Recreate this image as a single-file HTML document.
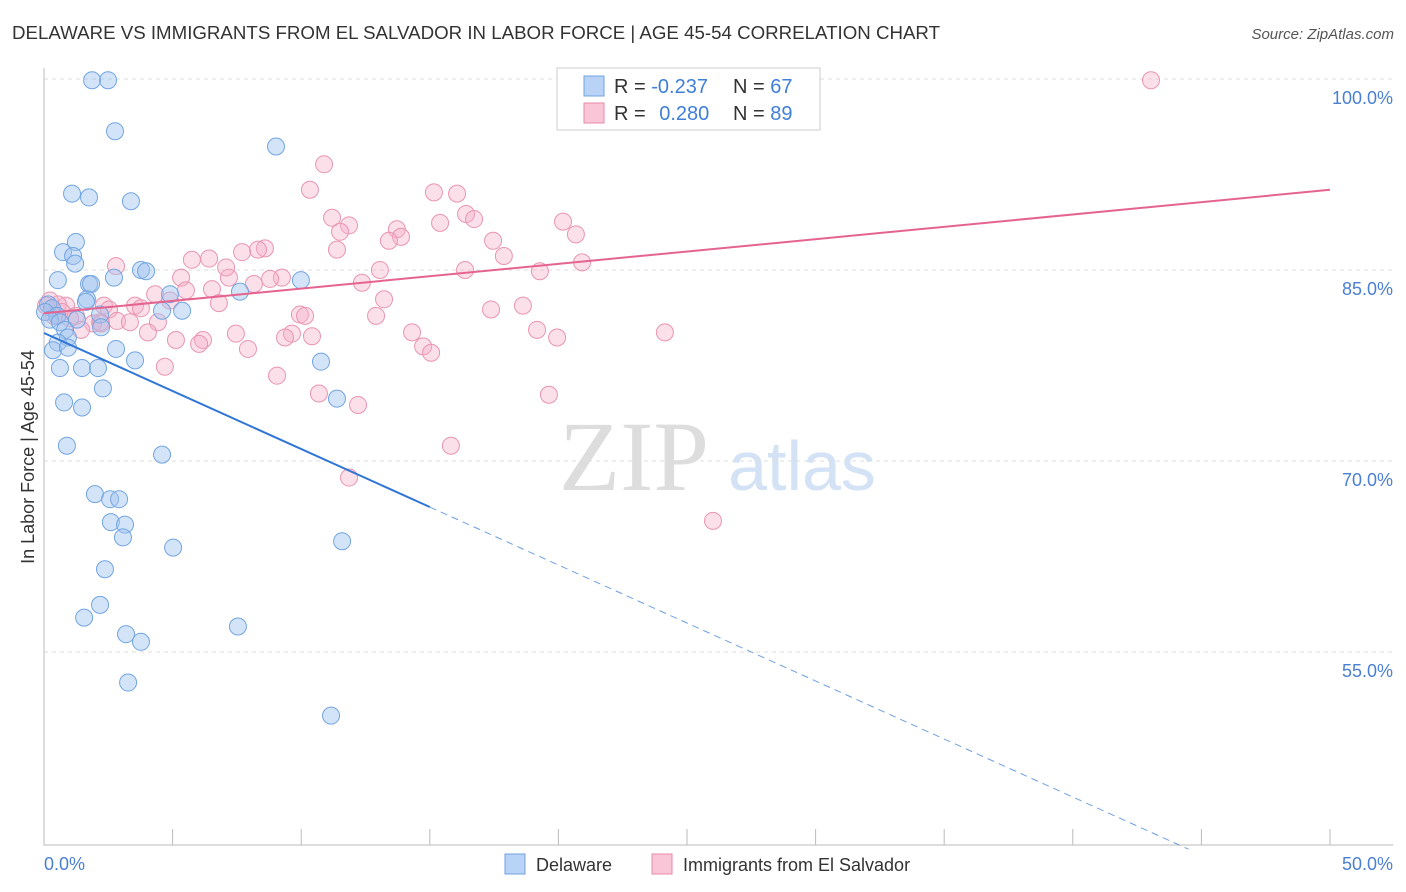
<!DOCTYPE html>
<html><head><meta charset="utf-8"><style>
body{margin:0;background:#fff;font-family:"Liberation Sans",sans-serif;}
#wrap{position:relative;width:1406px;height:892px;overflow:hidden;}
</style></head><body>
<div id="wrap">
<svg id="chart" width="1406" height="892">
<text x="12" y="39" font-size="18" fill="#333" textLength="928" lengthAdjust="spacingAndGlyphs">DELAWARE VS IMMIGRANTS FROM EL SALVADOR IN LABOR FORCE | AGE 45-54 CORRELATION CHART</text>
<text x="1394" y="39" font-size="15" fill="#555" font-style="italic" text-anchor="end">Source: ZipAtlas.com</text>
<text x="634" y="490" font-size="100" fill="#ddd" font-family="Liberation Serif,serif" text-anchor="middle">ZIP</text>
<text x="802" y="490" font-size="70" fill="#d3e2f5" text-anchor="middle">atlas</text>
<g id="grid"></g><g id="ticks"></g><g id="pts"></g><g id="trend"></g>
<text transform="translate(34,457) rotate(-90)" font-size="18" fill="#333" text-anchor="middle">In Labor Force | Age 45-54</text>
<text x="44" y="870" font-size="18" fill="#4a7fd4">0.0%</text>
<text x="1393" y="870" font-size="18" fill="#4a7fd4" text-anchor="end">50.0%</text>
<g>
<rect x="557" y="68" width="263" height="62" fill="#fff" stroke="#ccc"/>
<rect x="584" y="76" width="20" height="20" fill="#b8d3f5" stroke="#6fa3e0"/>
<rect x="584" y="103" width="20" height="20" fill="#f8c6d6" stroke="#e98aaa"/>
<text x="614" y="93" font-size="20" fill="#333">R = <tspan fill="#3f7fd9">-0.237</tspan></text>
<text x="733" y="93" font-size="20" fill="#333">N = <tspan fill="#3f7fd9">67</tspan></text>
<text x="614" y="120" font-size="20" fill="#333">R = <tspan fill="#3f7fd9" dx="8">0.280</tspan></text>
<text x="733" y="120" font-size="20" fill="#333">N = <tspan fill="#3f7fd9">89</tspan></text>
</g>
<g>
<rect x="505" y="854" width="20" height="20" fill="#b8d3f5" stroke="#6fa3e0"/>
<text x="536" y="871" font-size="18" fill="#333">Delaware</text>
<rect x="652" y="854" width="20" height="20" fill="#f8c6d6" stroke="#e98aaa"/>
<text x="683" y="871" font-size="18" fill="#333">Immigrants from El Salvador</text>
</g>
</svg></div>
<script>
const yTicks=[100,85,70,55];
const yTickLabels=["100.0%","85.0%","70.0%","55.0%"];
const xTicks=[0,5,10,15,20,25,30,35,40,45,50];
const blueX=[1.87,2.49,2.76,9.02,1.09,1.75,3.38,0.74,1.24,1.13,1.21,0.54,1.75,1.83,2.72,3.77,3.97,9.99,4.90,7.62,1.67,1.63,0.16,0.31,0.04,0.51,0.23,0.62,1.28,2.18,2.22,4.59,5.37,0.82,0.93,0.54,0.35,0.93,2.80,3.54,10.77,0.62,1.48,2.10,2.29,0.78,1.48,11.39,0.89,4.59,1.98,2.57,2.92,2.60,3.15,3.07,5.02,11.59,2.37,2.18,1.56,3.19,3.77,7.54,3.27,11.16];
const blueY=[99.9,99.9,95.9,94.7,91.0,90.7,90.4,86.4,87.2,86.1,85.5,84.2,83.9,83.9,84.4,85.0,84.9,84.2,83.1,83.3,82.7,82.5,82.3,82.0,81.7,81.4,81.1,80.9,81.1,81.5,80.5,81.8,81.8,80.3,79.7,79.3,78.7,78.9,78.8,77.9,77.8,77.3,77.3,77.3,75.7,74.6,74.2,74.9,71.2,70.5,67.4,67.0,67.0,65.2,65.0,64.0,63.2,63.7,61.5,58.7,57.7,56.4,55.8,57.0,52.6,50.0];
const pinkX=[43.04,10.89,10.34,15.16,16.06,16.41,16.72,11.20,11.86,11.51,15.40,20.18,20.68,13.72,13.88,13.41,17.46,17.88,8.59,8.32,7.70,6.42,5.75,2.80,5.33,7.19,7.08,13.06,16.37,19.28,20.92,11.39,9.25,8.79,8.16,12.36,6.53,5.52,4.32,6.80,4.90,13.22,3.54,3.77,2.33,2.53,0.86,0.54,0.23,0.08,0.70,1.24,2.18,2.84,1.91,3.34,4.43,1.44,4.04,9.95,10.15,9.64,10.42,9.37,7.46,6.18,6.03,5.13,12.91,17.38,18.62,14.31,14.74,15.05,19.17,19.95,24.14,7.93,4.70,9.06,10.69,12.21,19.63,15.82,11.86,26.01,2.22,0.39,1.01];
const pinkY=[99.9,93.3,91.3,91.1,91.0,89.4,89.0,89.1,88.5,88.0,88.7,88.8,87.8,88.2,87.6,87.3,87.3,86.1,86.7,86.6,86.4,85.9,85.8,85.3,84.4,84.4,85.2,85.0,85.0,84.9,85.6,86.6,84.4,84.3,83.9,84.0,83.5,83.4,83.1,82.4,82.6,82.7,82.2,82.0,82.2,81.9,82.2,82.3,82.6,82.2,81.7,81.4,80.9,81.0,80.8,80.9,80.9,80.3,80.1,81.5,81.4,80.0,79.8,79.7,80.0,79.5,79.2,79.5,81.4,81.9,82.2,80.1,79.0,78.5,80.3,79.7,80.1,78.8,77.4,76.7,75.3,74.4,75.2,71.2,68.7,65.3,80.8,81.4,81.2];
const blueTrend=[80.05,34.5], blueSolidEnd=15.0, blueDashEnd=44.5;
const pinkTrend=[81.6,91.3];
const X=v=>44+v/50*1286, Y=v=>79+(100-v)*12.733;
const NS="http://www.w3.org/2000/svg";
function mk(parent,tag,attrs){const e=document.createElementNS(NS,tag);for(const k in attrs)e.setAttribute(k,attrs[k]);document.getElementById(parent).appendChild(e);return e;}
yTicks.forEach((t,i)=>{
 const l=mk('grid','line',{x1:44,x2:1393,y1:Y(t),y2:Y(t),stroke:'#ddd','stroke-dasharray':'4,4'});
 
 
 const tx=mk('grid','text',{x:1393,y:Y(t)+25,'font-size':18,fill:'#4a7fd4','text-anchor':'end'});
 tx.textContent=yTickLabels[i];
 
 
});
const ax=mk('ticks','path',{d:'M44,68V845H1393',stroke:'#bbb',fill:'none'});


xTicks.forEach(t=>{const l=mk('ticks','line',{x1:X(t),x2:X(t),y1:829,y2:845,stroke:'#bbb'});
 
 });
function pts(xs,ys,fill,stroke,name){xs.forEach((x,i)=>{const c=mk('pts','circle',{cx:X(x),cy:Y(ys[i]),r:8.5,fill:fill,stroke:stroke,'stroke-width':1});
 
 });}
pts(pinkX,pinkY,'rgba(244,176,200,0.4)','#e995b1','point-el-salvador');
pts(blueX,blueY,'rgba(160,196,240,0.45)','#72a5e2','point-delaware');
const bAt=x=>blueTrend[0]+(blueTrend[1]-blueTrend[0])*x/50;
const t1=mk('trend','line',{x1:X(0),y1:Y(bAt(0)),x2:X(blueSolidEnd),y2:Y(bAt(blueSolidEnd)),stroke:'#2f75d6','stroke-width':2});


const t2=mk('trend','line',{x1:X(blueSolidEnd),y1:Y(bAt(blueSolidEnd)),x2:X(blueDashEnd),y2:Y(bAt(blueDashEnd)),stroke:'#6fa0e0','stroke-width':1,'stroke-dasharray':'7,5'});


const t3=mk('trend','line',{x1:X(0),y1:Y(pinkTrend[0]),x2:X(50),y2:Y(pinkTrend[1]),stroke:'#e5648f','stroke-width':2});


</script>
</body></html>
